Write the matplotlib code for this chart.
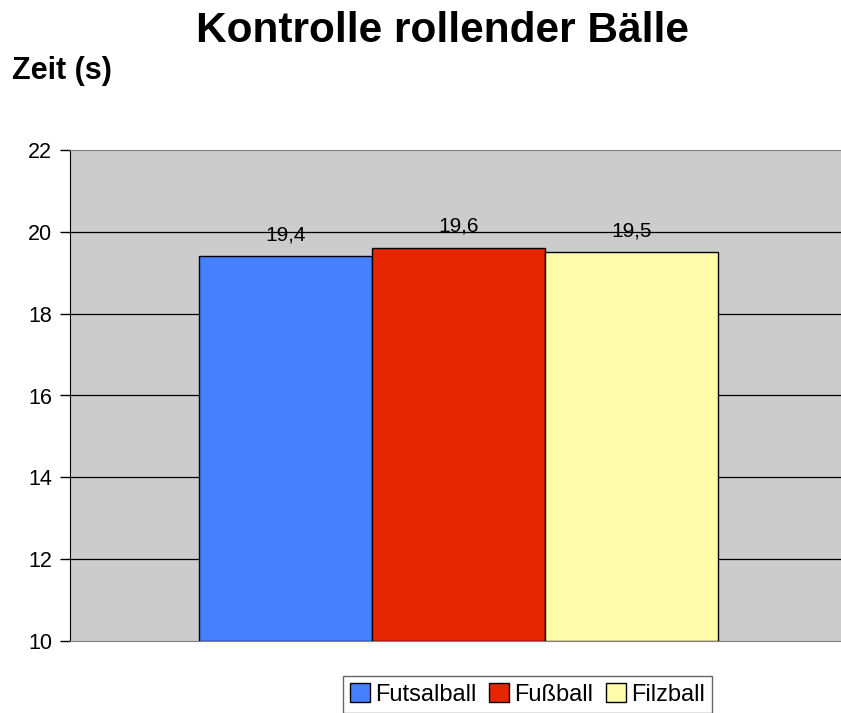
import matplotlib
matplotlib.use("Agg")
import matplotlib.pyplot as plt
from matplotlib.patches import Patch

plt.rcParams['font.family'] = ['Liberation Sans', 'DejaVu Sans']

series = ["Futsalball", "Fußball", "Filzball"]
values = [19.4, 19.6, 19.5]
labels = ["19,4", "19,6", "19,5"]
colors = ["#4580FF", "#E62600", "#FFFCAA"]
yticks = [10, 12, 14, 16, 18, 20, 22]

W, H = 841, 713
fig = plt.figure(figsize=(W/100, H/100), dpi=100)
ax = fig.add_axes([70/W, 1-641/H, (841-70)/W, (641-150)/H])
ax.set_facecolor("#CCCCCC")

xs = [-1, 0, 1]
ax.bar(xs, [v - 10 for v in values], bottom=10, width=1.0, color=colors,
       edgecolor="black", linewidth=1.0, zorder=3)
for x, v, l in zip(xs, values, labels):
    ax.text(x, v + 0.3, l, ha="center", va="bottom", fontsize=15, zorder=4)

ax.set_xlim(-2.246, 2.211)
ax.set_ylim(10, 22)
ax.set_yticks(yticks)
ax.set_yticklabels([str(t) for t in yticks], fontsize=15.5)
ax.set_xticks([])
for t in yticks[1:-1]:
    ax.axhline(t, color="black", linewidth=0.9, zorder=1)
for s in ["top", "bottom", "right"]:
    ax.spines[s].set_color("#808080")
ax.spines["right"].set_visible(False)
ax.spines["left"].set_color("black")
ax.tick_params(axis="y", direction="out", length=7, width=1, pad=6)

fig.text(443/W, 1-31/H, "Kontrolle rollender Bälle", ha="center", va="center",
         fontsize=30.5, fontweight="bold")
fig.text(12/W, 1-71/H, "Zeit (s)", ha="left", va="center",
         fontsize=22, fontweight="bold")

handles = [Patch(facecolor=c, edgecolor="black", linewidth=1) for c in colors]
leg = fig.legend(handles, series, loc="upper left",
                 bbox_to_anchor=(343/W, 1-676/H), ncol=3, fontsize=17,
                 frameon=True, fancybox=False, handlelength=0.85, handleheight=0.85,
                 handletextpad=0.2, columnspacing=0.55, borderpad=0.3,
                 borderaxespad=0)
leg.get_frame().set_edgecolor("#404040")
leg.get_frame().set_linewidth(1)

fig.savefig("out.png", dpi=100)
